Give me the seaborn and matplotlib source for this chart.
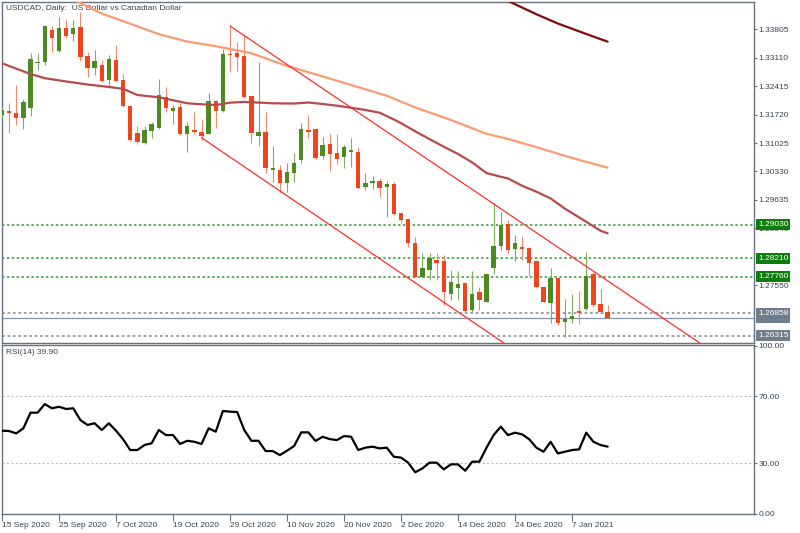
import matplotlib
matplotlib.use("Agg")
import matplotlib.pyplot as plt
import matplotlib.transforms as mtransforms
import numpy as np
import seaborn as sns

# ---------------- data ----------------
opens = [1.31710, 1.31808, 1.31752, 1.31629, 1.31888, 1.32988, 1.33013, 1.33788, 1.33274, 1.33844,
         1.33683, 1.33868, 1.33152, 1.32851, 1.32932, 1.32566, 1.33054, 1.32566, 1.31930, 1.31277,
         1.31033, 1.31319, 1.31400, 1.32157, 1.31815, 1.31913, 1.31238, 1.31344, 1.31302, 1.31246,
         1.32052, 1.31815, 1.33194, 1.33218, 1.33152, 1.32174, 1.31204, 1.31287, 1.30366, 1.30366,
         1.30055, 1.30285, 1.30610, 1.31344, 1.31360, 1.30708, 1.31001, 1.30788, 1.30691, 1.30798,
         1.30798, 1.29957, 1.30040, 1.30104, 1.29943, 1.30023, 1.29307, 1.29160, 1.28574, 1.27757,
         1.27921, 1.28166, 1.28141, 1.27335, 1.27474, 1.27596, 1.26943, 1.27376, 1.27146, 1.27963,
         1.28508, 1.29038, 1.28434, 1.28491, 1.28452, 1.28141, 1.27498, 1.27107, 1.27718, 1.26657,
         1.26723, 1.26919, 1.26968, 1.27823, 1.27083, 1.26887]
highs = [1.31906, 1.31996, 1.32443, 1.32094, 1.33218, 1.33218, 1.33893, 1.33893, 1.34113, 1.34032,
         1.34032, 1.34235, 1.33257, 1.33299, 1.33054, 1.33177, 1.33421, 1.32712, 1.31954, 1.31441,
         1.31441, 1.31546, 1.32590, 1.32387, 1.31954, 1.31996, 1.31532, 1.31776, 1.31612, 1.32248,
         1.32077, 1.33316, 1.33886, 1.33487, 1.33683, 1.32174, 1.32998, 1.31791, 1.30960, 1.30488,
         1.30529, 1.30774, 1.31507, 1.31710, 1.31385, 1.31165, 1.31238, 1.31246, 1.30977, 1.31140,
         1.30928, 1.30292, 1.30219, 1.30170, 1.30104, 1.30080, 1.29315, 1.29167, 1.28735, 1.28337,
         1.28337, 1.28337, 1.28288, 1.27921, 1.27897, 1.27603, 1.27897, 1.27513, 1.27823, 1.29552,
         1.29332, 1.29143, 1.28777, 1.28760, 1.28491, 1.28141, 1.27498, 1.27963, 1.27718, 1.27212,
         1.27327, 1.27415, 1.28354, 1.27865, 1.27457, 1.27066]
lows = [1.31637, 1.31263, 1.31466, 1.31360, 1.31686, 1.32810, 1.32932, 1.33257, 1.33257, 1.33585,
        1.33519, 1.33030, 1.32646, 1.32688, 1.32524, 1.32363, 1.32524, 1.31913, 1.31074, 1.31001,
        1.31001, 1.31140, 1.31368, 1.31791, 1.31490, 1.31221, 1.30813, 1.31238, 1.31099, 1.31238,
        1.31404, 1.31791, 1.32768, 1.32786, 1.32133, 1.31033, 1.30952, 1.30285, 1.30080, 1.29835,
        1.29835, 1.30080, 1.30529, 1.31140, 1.30627, 1.30627, 1.30348, 1.30512, 1.30407, 1.30446,
        1.29901, 1.29877, 1.29901, 1.29713, 1.29209, 1.29266, 1.29077, 1.28491, 1.27743, 1.27726,
        1.27677, 1.27677, 1.27066, 1.27188, 1.27188, 1.26902, 1.26902, 1.26943, 1.27132, 1.27816,
        1.28410, 1.28329, 1.28141, 1.28166, 1.27775, 1.27474, 1.27132, 1.26618, 1.26577, 1.26291,
        1.26618, 1.26601, 1.26943, 1.27024, 1.26887, 1.26741]
closes = [1.31832, 1.31752, 1.31629, 1.32020, 1.33072, 1.33013, 1.33893, 1.33585, 1.33844, 1.33648,
          1.33844, 1.33120, 1.32866, 1.33030, 1.32548, 1.33072, 1.32548, 1.31930, 1.31099, 1.31057,
          1.31344, 1.31483, 1.32199, 1.31888, 1.31874, 1.31238, 1.31441, 1.31302, 1.31204, 1.32052,
          1.31815, 1.33194, 1.33177, 1.33120, 1.32157, 1.31277, 1.31287, 1.30407, 1.30422, 1.30055,
          1.30309, 1.30544, 1.31368, 1.31302, 1.30666, 1.30977, 1.30757, 1.30642, 1.30920, 1.30854,
          1.29918, 1.30055, 1.30104, 1.29918, 1.30023, 1.29283, 1.29143, 1.28588, 1.27757, 1.27963,
          1.28222, 1.28085, 1.27391, 1.27635, 1.27572, 1.26919, 1.27327, 1.27188, 1.27823, 1.28508,
          1.29021, 1.28410, 1.28574, 1.28427, 1.28085, 1.27498, 1.27146, 1.27718, 1.26618, 1.26723,
          1.26804, 1.26870, 1.27775, 1.27066, 1.26902, 1.26755]

rsi = [49.4, 49.2, 47.8, 50.8, 60.1, 60.1, 65.2, 62.7, 63.6, 62.3,
       62.7, 55.7, 52.8, 53.8, 49.8, 53.8, 49.4, 44.3, 37.9, 37.9,
       40.9, 41.9, 49.8, 46.8, 46.8, 41.5, 43.4, 42.8, 41.5, 50.8,
       48.8, 61.1, 60.7, 60.5, 49.8, 43.4, 43.4, 37.3, 37.3, 34.9,
       37.5, 40.3, 48.4, 48.4, 43.3, 45.8, 44.4, 43.8, 46.2, 45.8,
       37.9, 39.3, 39.9, 38.9, 39.3, 33.9, 33.4, 30.4, 24.7, 27.0,
       30.4, 30.4, 26.4, 29.4, 29.4, 25.6, 31.0, 31.0, 39.3, 46.8,
       51.8, 46.8, 48.2, 47.2, 44.3, 39.3, 36.9, 42.8, 35.9, 36.9,
       37.9, 38.3, 48.2, 42.8, 40.9, 39.9]

# moving averages (bar index, value)
ma_slow_idx = [70.5, 75, 78, 82, 85]
ma_slow_val = [1.34540, 1.34173, 1.33947, 1.33690, 1.33502]
ma_orange_idx = [9, 14, 18, 22, 26, 30, 33, 35, 40, 44, 49, 54, 58, 63, 68, 71, 75, 79, 85]
ma_orange_val = [1.34615, 1.34190, 1.33940, 1.33685, 1.33505, 1.33392, 1.33290, 1.33218, 1.32910,
                 1.32705, 1.32443, 1.32180, 1.31895, 1.31588, 1.31250, 1.31125, 1.30925, 1.30710, 1.30422]
ma_mid_idx = [0, 4, 6, 9, 12, 15, 17, 19, 22, 24, 26, 28, 30, 32, 34, 38, 41, 43, 45, 47, 49, 51, 53,
              55, 56, 58, 60, 62, 64, 66, 68, 70, 71, 73, 75, 77, 79, 82, 84, 85]
ma_mid_val = [1.32974, 1.32712, 1.32610, 1.32530, 1.32455, 1.32395, 1.32350, 1.32199, 1.32143, 1.32070,
              1.31996, 1.31972, 1.31954, 1.32011, 1.32030, 1.31996, 1.31990, 1.32015, 1.31979, 1.31937,
              1.31888, 1.31832, 1.31766, 1.31600, 1.31510, 1.31310, 1.31120, 1.30935, 1.30757, 1.30550,
              1.30290, 1.30200, 1.30160, 1.29980, 1.29835, 1.29670, 1.29420, 1.29100, 1.28880, 1.28818]

# trend lines (bar index, price)
upper_line_idx = [32, 98.5]
upper_line_val = [1.33886, 1.26070]
lower_line_idx = [28, 71]
lower_line_val = [1.31155, 1.26070]

green_levels = [1.29030, 1.28210, 1.27760]
gray_levels = [1.26858, 1.26315]

# scale labels that are not hidden behind the level boxes
price_ticks = [1.33805, 1.33110, 1.32415, 1.31720, 1.31025, 1.30330, 1.29635,
               1.28940, 1.27550]
rsi_ticks = [0, 30, 70, 100]
date_ticks = [0, 8, 16, 24, 32, 40, 48, 56, 64, 72, 80]
date_labels = ["15 Sep 2020", "25 Sep 2020", "7 Oct 2020", "19 Oct 2020", "29 Oct 2020",
               "10 Nov 2020", "20 Nov 2020", "2 Dec 2020", "14 Dec 2020", "24 Dec 2020", "7 Jan 2021"]

title = "USDCAD, Daily:  US Dollar vs Canadian Dollar"
rsi_title = "RSI(14) 39.90"

# ---------------- style ----------------
sns.set_theme(style="white")
plt.rcParams["font.family"] = ["Liberation Sans", "DejaVu Sans"]

SPINE = "#66737f"
TXT = "#3a434c"
UP_BODY, UP_WICK = "#4c8a22", "#7fae5c"
DN_BODY, DN_WICK = "#f2441c", "#f5866a"
LVL_GREEN, BOX_GREEN = "#2f9a2f", "#0e7d0e"
LVL_GRAY, BOX_GRAY = "#98a2ae", "#6f7e8d"

W, H = 800, 533
fig = plt.figure(figsize=(8, 5.33), dpi=100)
fig.patch.set_facecolor("white")


def rect(l, t, r, b):
    return [l / W, 1 - b / H, (r - l) / W, (b - t) / H]


ax = fig.add_axes(rect(2, 2, 754, 342.5))
ax2 = fig.add_axes(rect(2, 344.5, 754, 514))

XLIM = (0.0, 105.54)

# ---------------- main price panel ----------------
x = np.arange(len(opens))
o, h, l, c = map(np.array, (opens, highs, lows, closes))
up = c >= o
dn = ~up
minh = 0.00028
ax.vlines(x[up], l[up], h[up], color=UP_WICK, lw=0.8, zorder=3)
ax.vlines(x[dn], l[dn], h[dn], color=DN_WICK, lw=0.8, zorder=3)
ax.bar(x[up], np.maximum(c - o, minh)[up], bottom=o[up], width=0.62,
       color=UP_BODY, linewidth=0, zorder=4)
ax.bar(x[dn], np.maximum(o - c, minh)[dn], bottom=c[dn], width=0.62,
       color=DN_BODY, linewidth=0, zorder=4)

sns.lineplot(x=ma_slow_idx, y=ma_slow_val, ax=ax, color="#7d0c0c", lw=1.6, legend=False, zorder=5)
sns.lineplot(x=ma_orange_idx, y=ma_orange_val, ax=ax, color="#fb9b70", lw=1.6, legend=False, zorder=5)
sns.lineplot(x=ma_mid_idx, y=ma_mid_val, ax=ax, color="#b84a4c", lw=1.6, legend=False, zorder=5)

sns.lineplot(x=upper_line_idx, y=upper_line_val, ax=ax, color="#ff2d2d", lw=0.9, legend=False, zorder=6)
sns.lineplot(x=lower_line_idx, y=lower_line_val, ax=ax, color="#ff2d2d", lw=0.9, legend=False, zorder=6)

for lv in green_levels:
    ax.axhline(lv, color=LVL_GREEN, lw=1.1, ls=(0, (1.6, 1.6)), zorder=2)
for lv in gray_levels:
    ax.axhline(lv, color=LVL_GRAY, lw=1.4, ls=(0, (1.4, 1.4)), zorder=2)
ax.axhline(closes[-1], color="#8494a4", lw=0.9, zorder=2)

ax.set_xlim(*XLIM)
ax.set_ylim(1.26149, 1.34472)
ax.set_yticks(price_ticks)
ax.set_yticklabels([f"{t:.5f}" for t in price_ticks])
ax.yaxis.tick_right()
ax.tick_params(axis="y", right=True, left=False, labelright=True, labelleft=False,
               direction="out", length=2.5, width=0.8, pad=0.6, labelsize=6,
               colors=SPINE, labelcolor=TXT)
ax.tick_params(axis="x", bottom=False, labelbottom=False)
ax.set_xlabel("")
ax.set_ylabel("")

trans = mtransforms.blended_transform_factory(ax.transAxes, ax.transData)
bx = 1 + 4 / 752
ax.text(bx, closes[-1], f"{closes[-1]:.5f}", transform=trans, ha="left", va="center",
        fontsize=6, color="white", clip_on=False, zorder=9,
        bbox=dict(boxstyle="square,pad=0.22", fc=BOX_GRAY, ec="none"))
for lv in green_levels:
    ax.text(bx, lv, f"{lv:.5f}", transform=trans, ha="left", va="center", fontsize=6,
            color="white", clip_on=False, zorder=10,
            bbox=dict(boxstyle="square,pad=0.22", fc=BOX_GREEN, ec="none"))
for lv in gray_levels:
    ax.text(bx, lv, f"{lv:.5f}", transform=trans, ha="left", va="center", fontsize=6,
            color="white", clip_on=False, zorder=10,
            bbox=dict(boxstyle="square,pad=0.22", fc=BOX_GRAY, ec="none"))

ax.text(4 / 752, 1 - 6 / 340.5, title, transform=ax.transAxes, ha="left", va="center",
        fontsize=6, color=TXT, zorder=1)

# ---------------- RSI panel ----------------
sns.lineplot(x=x, y=rsi, ax=ax2, color="black", lw=1.6, legend=False, zorder=5)
for lv in (70, 30):
    ax2.axhline(lv, color="#b9b9b9", lw=0.8, ls=(0, (2, 2)), zorder=1)
ax2.set_xlim(*XLIM)
ax2.set_ylim(-0.1, 100.6)
ax2.set_yticks(rsi_ticks)
ax2.set_yticklabels([f"{t:.2f}" for t in rsi_ticks])
ax2.yaxis.tick_right()
ax2.tick_params(axis="y", right=True, left=False, labelright=True, labelleft=False,
                direction="out", length=2.5, width=0.8, pad=0.6, labelsize=6,
                colors=SPINE, labelcolor=TXT)
ax2.set_xticks(date_ticks)
ax2.set_xticklabels(date_labels)
for lab in ax2.get_xticklabels():
    lab.set_horizontalalignment("left")
ax2.tick_params(axis="x", bottom=True, direction="out", length=5, width=0.8, pad=0.5,
                labelsize=6, colors=SPINE, labelcolor=TXT)
ax2.set_xlabel("")
ax2.set_ylabel("")
ax2.text(4 / 752, 1 - 7.5 / 169.5, rsi_title, transform=ax2.transAxes, ha="left",
         va="center", fontsize=6, color=TXT)

for a in (ax, ax2):
    a.set_facecolor("white")
    a.grid(False)
    for s in a.spines.values():
        s.set_color(SPINE)
        s.set_linewidth(1.0)
        s.set_visible(True)

fig.savefig("out.png", dpi=100)
